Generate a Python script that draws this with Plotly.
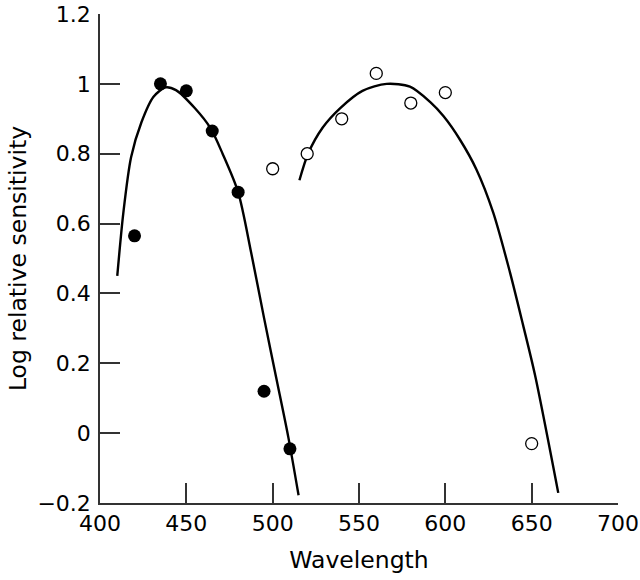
import plotly.graph_objects as go

# Filled circles (short-wavelength series)
filled_x = [420, 435, 450, 465, 480, 495, 510]
filled_y = [0.565, 1.0, 0.98, 0.865, 0.69, 0.12, -0.045]

# Open circles (long-wavelength series)
open_x = [500, 520, 540, 560, 580, 600, 650]
open_y = [0.757, 0.80, 0.90, 1.03, 0.945, 0.975, -0.03]

# Fitted curve, left
curve1_x = [410, 413.5, 418, 424, 431, 438, 444, 455, 464, 471, 480, 487.5, 495, 502, 509, 515]
curve1_y = [0.45, 0.63, 0.79, 0.89, 0.963, 0.99, 0.982, 0.93, 0.873, 0.80, 0.69, 0.518, 0.33, 0.16, -0.01, -0.178]

# Fitted curve, right
curve2_x = [515.5, 520.5, 529, 539, 552, 566, 579.5, 591, 599, 608.5, 618, 627.7, 637.4, 645, 652, 665.4]
curve2_y = [0.724, 0.80, 0.875, 0.93, 0.98, 1.0, 0.992, 0.949, 0.907, 0.84, 0.755, 0.632, 0.461, 0.31, 0.165, -0.171]

y_ticks = [1.2, 1.0, 0.8, 0.6, 0.4, 0.2, 0.0, -0.2]
y_ticktext = ["1.2", "1", "0.8", "0.6", "0.4", "0.2", "0", "\u22120.2"]
x_ticks = [400, 450, 500, 550, 600, 650, 700]

fig = go.Figure()
fig.add_trace(go.Scatter(x=curve1_x, y=curve1_y, mode="lines",
                         line=dict(color="black", width=2.4, shape="spline", smoothing=0.8),
                         showlegend=False, hoverinfo="skip"))
fig.add_trace(go.Scatter(x=curve2_x, y=curve2_y, mode="lines",
                         line=dict(color="black", width=2.4, shape="spline", smoothing=0.8),
                         showlegend=False, hoverinfo="skip"))
fig.add_trace(go.Scatter(x=filled_x, y=filled_y, mode="markers",
                         marker=dict(symbol="circle", size=13, color="black",
                                     line=dict(color="black", width=0)),
                         showlegend=False))
fig.add_trace(go.Scatter(x=open_x, y=open_y, mode="markers",
                         marker=dict(symbol="circle", size=12, color="white",
                                     line=dict(color="black", width=1.3)),
                         showlegend=False))

font_family = "'DejaVu Sans', sans-serif"
fig.update_layout(
    width=640, height=580,
    margin=dict(l=100, r=22, t=14, b=77),
    paper_bgcolor="white", plot_bgcolor="white",
    font=dict(family=font_family, size=22, color="black"),
    xaxis=dict(range=[400, 700], tickvals=x_ticks, ticks="inside", ticklen=20,
               tickwidth=1.5, tickcolor="#333", showline=True, linecolor="#333",
               linewidth=1.5, showgrid=False, zeroline=False, automargin=False,
               ticklabeloverflow="allow",
               title=dict(text="Wavelength", standoff=16, font=dict(size=23.5)),
               tickfont=dict(size=22)),
    yaxis=dict(range=[-0.2, 1.2], tickvals=y_ticks, ticktext=y_ticktext,
               ticks="inside", ticklen=20, tickwidth=1.5, tickcolor="#333",
               showline=True, linecolor="#333", linewidth=1.5, showgrid=False,
               zeroline=False, automargin=False, ticklabeloverflow="allow",
               ticklabelstandoff=3,
               title=dict(text="Log relative sensitivity", standoff=4, font=dict(size=23.5)),
               tickfont=dict(size=22)),
)

fig.write_html("out.html", config={"displayModeBar": False},
               post_script="document.body.style.margin='0';document.body.style.padding='0';")
